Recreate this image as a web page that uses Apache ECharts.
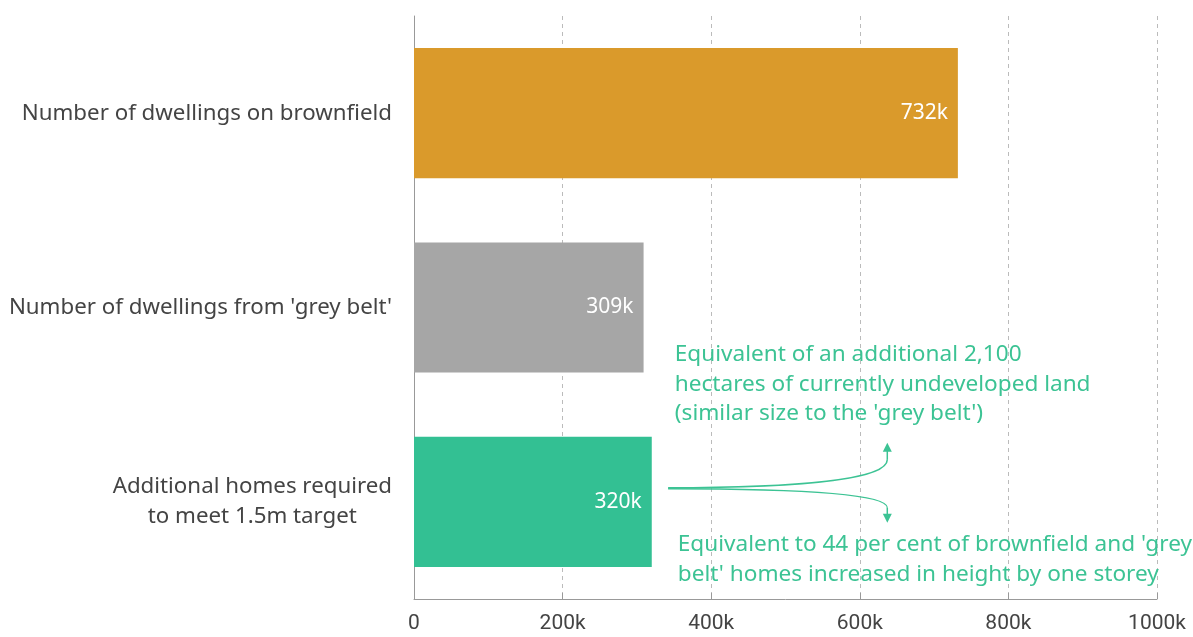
<!DOCTYPE html>
<html><head><meta charset="utf-8">
<script src="https://cdn.jsdelivr.net/npm/echarts@6/dist/echarts.min.js"></script>
<style>html,body{margin:0;padding:0;background:#fff}#c{width:1193px;height:637px}</style>
</head><body><div id="c"></div>
<script>
const categories = ["Number of dwellings on brownfield", "Number of dwellings from 'grey belt'", "Additional homes required\nto meet 1.5m target"];
const values = [732, 309, 320];
const barColors = ['#DA9A2B', '#A6A6A6', '#33C093'];
const xTicks = [0, 200, 400, 600, 800, 1000];
const noteTop = ["Equivalent of an additional 2,100", "hectares of currently undeveloped land", "(similar size to the 'grey belt')"];
const noteBottom = ["Equivalent to 44 per cent of brownfield and 'grey", "belt' homes increased in height by one storey"];

const chart = echarts.init(document.getElementById('c'));
const FONT = "'Noto Sans', sans-serif";
const green = '#3CC394';
chart.setOption({
  animation: false,
  grid: {left: 414, right: 36, top: 16, bottom: 38, containLabel: false},
  xAxis: {
    type: 'value', min: xTicks[0], max: xTicks[xTicks.length - 1], interval: 200,
    axisLine: {show: true, lineStyle: {color: '#999', width: 1}},
    axisTick: {show: true, inside: true, length: 6, lineStyle: {color: '#999'}},
    splitLine: {show: true, lineStyle: {type: [4, 4], color: '#bbb'}},
    axisLabel: {color: '#444', fontSize: 21, fontFamily: "'Liberation Sans Narrow', 'Roboto', sans-serif", margin: 14,
      formatter: v => v === 0 ? '0' : v + 'k'}
  },
  yAxis: {
    type: 'category', data: categories, inverse: true,
    axisLine: {show: true, lineStyle: {color: '#999', width: 1}},
    axisTick: {show: false},
    axisLabel: {margin: 22, color: '#444', fontSize: 22.3, fontFamily: FONT, lineHeight: 30,
      formatter: v => v.split('\n').map(l => '{c|' + l + '}').join('\n'),
      rich: {c: {align: 'center', fontSize: 22.3, fontFamily: FONT, color: '#444', lineHeight: 30}}}
  },
  series: [{
    type: 'bar', barCategoryGap: '33%',
    data: values.map((v, i) => ({value: v, itemStyle: {color: barColors[i]}})),
    label: {show: true, position: 'insideRight', distance: 10, color: '#fff', fontSize: 21, fontFamily: FONT,
      formatter: p => p.value + 'k'}
  }]
});

function px(v, c) { return chart.convertToPixel({xAxisIndex: 0, yAxisIndex: 0}, [v, c]); }
const start = px(342, 2);
const endX = px(637, 2)[0];
const sx = start[0], sy = start[1] - 14;
const g = [];
g.push({type: 'bezierCurve', shape: {x1: sx, y1: sy, cpx1: sx + 130, cpy1: sy, cpx2: endX, cpy2: sy - 8, x2: endX, y2: sy - 28},
  style: {stroke: green, lineWidth: 1.5, fill: null}, silent: true});
g.push({type: 'line', shape: {x1: endX, y1: sy - 28, x2: endX, y2: sy - 37}, style: {stroke: green, lineWidth: 1.5}});
g.push({type: 'polygon', shape: {points: [[endX - 4.5, sy - 36], [endX + 4.5, sy - 36], [endX, sy - 45]]}, style: {fill: green}});
g.push({type: 'bezierCurve', shape: {x1: sx, y1: sy + 1, cpx1: sx + 130, cpy1: sy + 1, cpx2: endX, cpy2: sy + 6, x2: endX, y2: sy + 20},
  style: {stroke: green, lineWidth: 1.5, fill: null}, silent: true});
g.push({type: 'line', shape: {x1: endX, y1: sy + 20, x2: endX, y2: sy + 27}, style: {stroke: green, lineWidth: 1.5}});
g.push({type: 'polygon', shape: {points: [[endX - 4.5, sy + 26], [endX + 4.5, sy + 26], [endX, sy + 35]]}, style: {fill: green}});
const base = px(351, 2);
g.push({type: 'text', x: base[0], y: base[1] - 162, style: {text: noteTop.join('\n'), fill: green, fontSize: 22.6, fontFamily: FONT, lineHeight: 29.5, textVerticalAlign: 'top'}});
const tBot = px(355, 2);
g.push({type: 'text', x: tBot[0], y: tBot[1] + 28, style: {text: noteBottom.join('\n'), fill: green, fontSize: 22.6, fontFamily: FONT, lineHeight: 29.5, textVerticalAlign: 'top'}});
chart.setOption({graphic: g});
</script></body></html>
